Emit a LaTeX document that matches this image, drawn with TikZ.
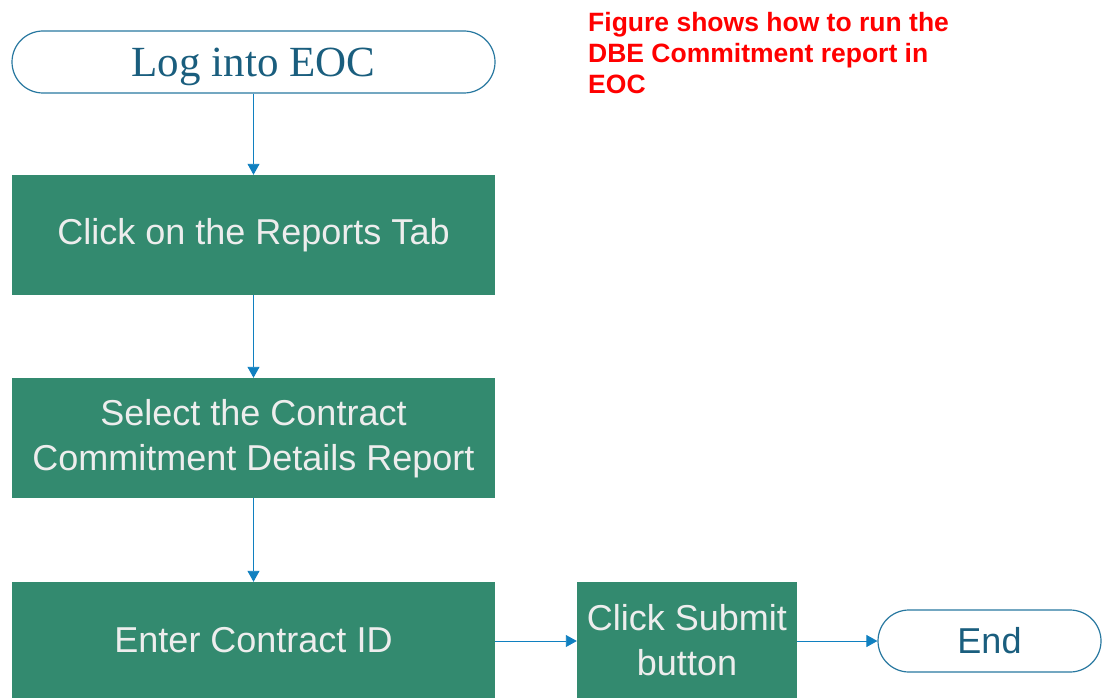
\documentclass[tikz,border=0pt]{standalone}
\usepackage{fontspec}
\setmainfont{Liberation Serif}
\setsansfont{Liberation Sans}
\usetikzlibrary{shapes,arrows.meta}
\usepackage{xcolor}
\definecolor{pasoverde}{RGB}{51,138,111}
\definecolor{flecha}{RGB}{16,128,192}
\definecolor{borde}{RGB}{40,120,160}
\definecolor{tinta}{RGB}{26,94,126}

\tikzset{
	paso/.style={fill=pasoverde, text=white!93!black, inner sep=0pt, align=center,
		font=\sffamily\fontsize{36}{45}\selectfont},
	terminal/.style={draw=borde, line width=1.2pt, fill=white, rounded corners=31pt,
		minimum height=62pt, inner sep=0pt, text=tinta},
	flujo/.style={-{Triangle[width=12pt,length=11pt]}, draw=flecha, fill=flecha, line width=0.9pt}
}

\begin{document}
\begin{tikzpicture}[x=1pt,y=-1pt]
	\useasboundingbox (0,0) rectangle (1110,698);
	% inicio
	\node[terminal, minimum width=483pt, text height=28.5pt, text depth=0pt,
		font=\rmfamily\fontsize{43}{50}\selectfont] (login) at (253.5,62) {Log into EOC};
	% pasos
	\node[paso, minimum width=483pt, minimum height=120pt] (reports) at (253.5,235) {Click on the Reports Tab};
	\node[paso, minimum width=483pt, minimum height=120pt, text depth=6pt] (select) at (253.5,438) {Select the Contract\\Commitment Details Report};
	\node[paso, minimum width=483pt, minimum height=116pt] (contract) at (253.5,640) {Enter Contract ID};
	\node[paso, minimum width=220pt, minimum height=116pt] (submit) at (687,640) {Click Submit\\button};
	% fin
	\node[terminal, minimum width=223pt, font=\sffamily\fontsize{36}{42}\selectfont] (fin) at (989.5,641) {End};
	% flechas
	\draw[flujo] (login) -- (reports);
	\draw[flujo] (reports) -- (select);
	\draw[flujo] (select) -- (contract);
	\draw[flujo] (contract.east |- fin.west) -- (submit.west |- fin.west);
	\draw[flujo] (submit.east |- fin.west) -- (fin.west);
	% nota
	\node[anchor=north west, align=left, text=red, inner sep=0pt,
		font=\sffamily\bfseries\fontsize{26.5}{31}\selectfont] (nota) at (588,12) {Figure shows how to run the\\DBE Commitment report in\\EOC};
\end{tikzpicture}
\end{document}
